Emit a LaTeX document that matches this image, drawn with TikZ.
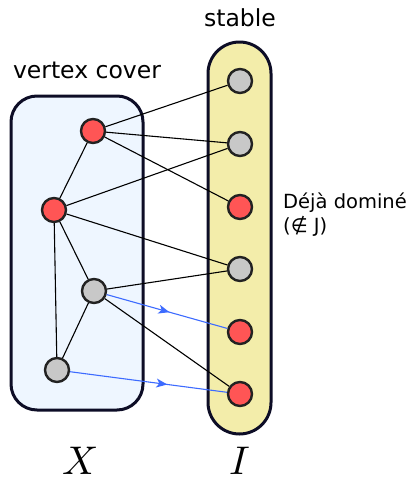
\documentclass[tikz,border=0pt]{standalone}
\usepackage{fontspec}
\setmainfont{DejaVu Sans}
\usepackage{unicode-math}
\setmathfont{Latin Modern Math}
\usetikzlibrary{arrows.meta,decorations.markings}
\definecolor{boxline}{HTML}{0D0D26}
\definecolor{xfill}{HTML}{EEF6FF}
\definecolor{ifill}{HTML}{F3EDAA}
\definecolor{vred}{HTML}{FF5555}
\definecolor{vgray}{HTML}{C8C8C8}
\definecolor{vstroke}{HTML}{222222}
\definecolor{arrblue}{HTML}{3D6BFF}
\tikzset{
  vtx/.style={circle,draw=vstroke,line width=2.4pt,minimum size=24pt,inner sep=0pt},
  rv/.style={vtx,fill=vred},
  gv/.style={vtx,fill=vgray},
  edge/.style={draw=black,line width=1.1pt},
  setbox/.style={draw=boxline,line width=3pt},
  midarrow/.style={draw=arrblue,line width=1.1pt,postaction={decorate},
    decoration={markings,mark=at position #1 with {\arrow{Stealth[length=11pt,width=9pt,inset=3pt]}}}},
  lbl/.style={font=\fontsize{23.5}{28}\selectfont,inner sep=0pt},
  smalllbl/.style={font=\fontsize{19.5}{24}\selectfont,inner sep=0pt,align=left},
  biglbl/.style={font=\fontsize{40}{40}\selectfont,inner sep=0pt}
}
\begin{document}
\begin{tikzpicture}[x=1pt,y=-1pt]
\useasboundingbox (0,0) rectangle (412,477);
% set boxes
\draw[setbox,fill=xfill,rounded corners=26pt] (11,96) rectangle (143,410);
\draw[setbox,fill=ifill,rounded corners=31.5pt] (208,42) rectangle (271,434);
% labels
\node[lbl] (stable) at (240,18) {stable};
\node[lbl] (vc) at (87,70) {vertex cover};
\node[smalllbl,anchor=west] (dd) at (283,215) {Déjà dominé\\(∉ J)};
\node[biglbl] (X) at (80,461) {$X$};
\node[biglbl] (I) at (240,461) {$I$};
% vertices
\node[rv] (a) at (93,131) {};
\node[rv] (b) at (54,210) {};
\node[gv] (c) at (94,291) {};
\node[gv] (d) at (57,370) {};
\node[gv] (r1) at (240,81) {};
\node[gv] (r2) at (240,144) {};
\node[rv] (r3) at (240,207) {};
\node[gv] (r4) at (240,269) {};
\node[rv] (r5) at (240,332) {};
\node[rv] (r6) at (240,394) {};
% edges
\path[edge] (a) -- (r1);
\path[edge] (a) -- (r2);
\path[edge] (a) -- (r3);
\path[edge] (b) -- (a);
\path[edge] (b) -- (r2);
\path[edge] (b) -- (r4);
\path[edge] (b) -- (c);
\path[edge] (b) -- (d);
\path[edge] (c) -- (r4);
\path[edge] (c) -- (r6);
\path[edge] (c) -- (d);
\path[midarrow=0.52] (c) -- (r5);
\path[midarrow=0.62] (d) -- (r6);
\end{tikzpicture}
\end{document}
